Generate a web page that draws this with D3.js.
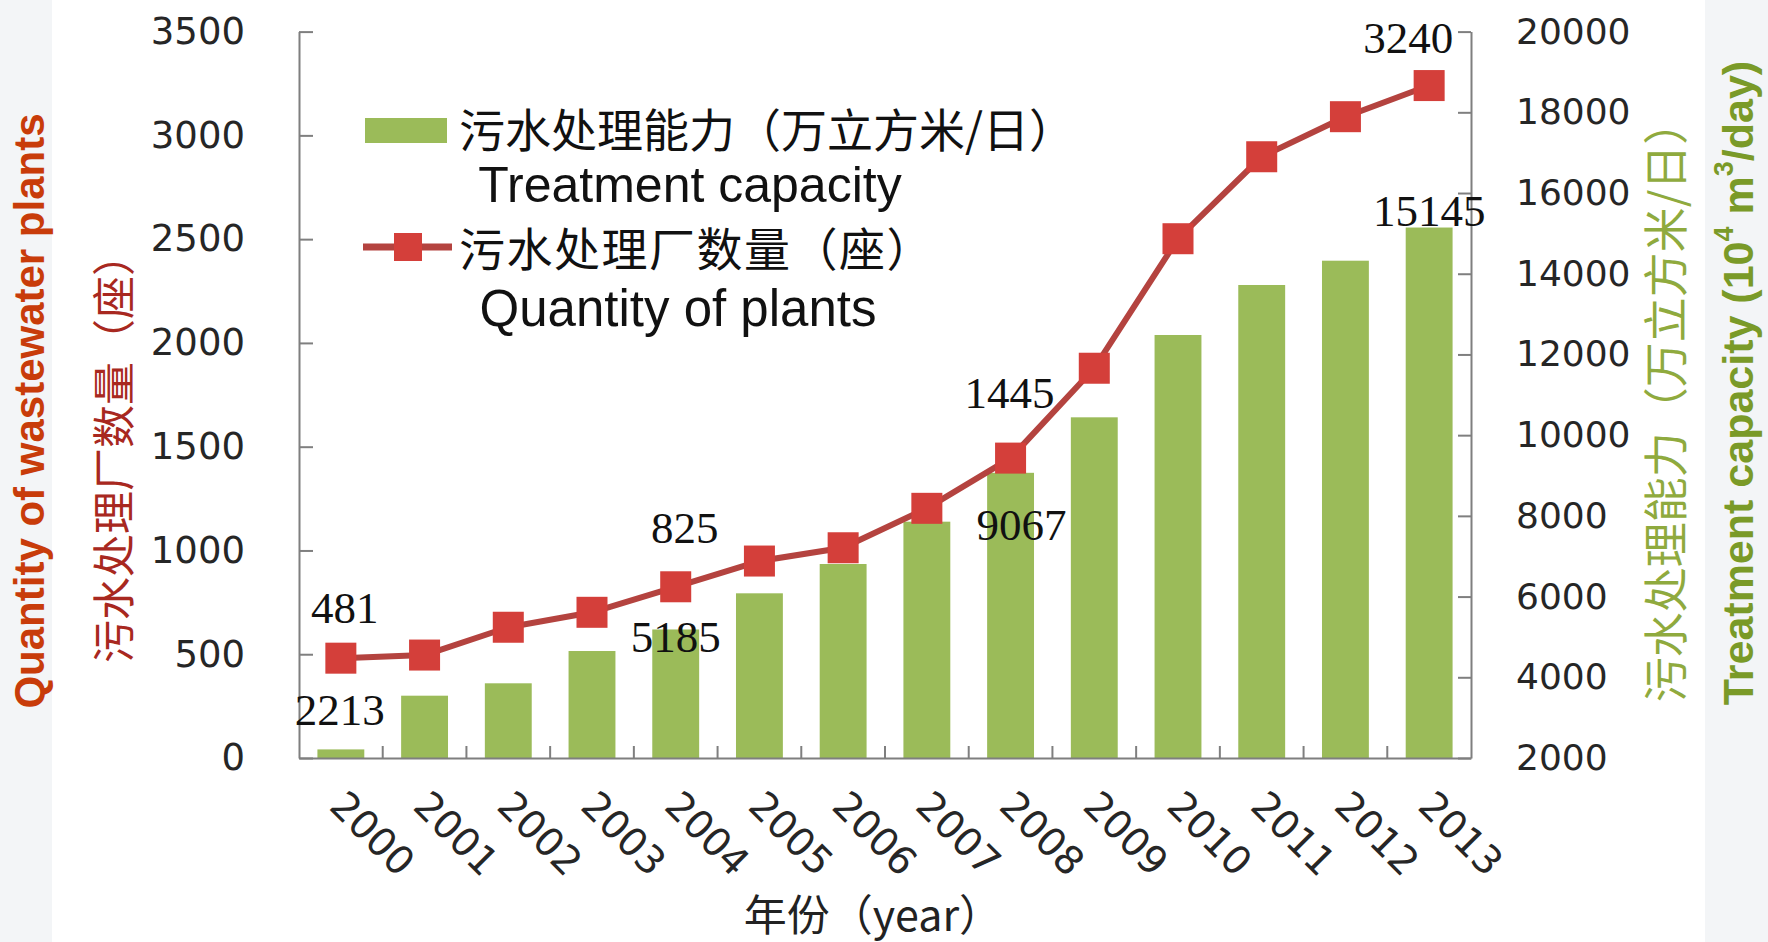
<!DOCTYPE html>
<html>
<head>
<meta charset="utf-8">
<script src="https://cdn.jsdelivr.net/npm/d3@7"></script>
<style>
  html, body { margin: 0; padding: 0; background: #ffffff; }
  svg { display: block; }
</style>
</head>
<body>
<svg id="chart" width="1768" height="942"></svg>
<script>
// ---------- data ----------
const years = ["2000","2001","2002","2003","2004","2005","2006","2007","2008","2009","2010","2011","2012","2013"];
const capacity = [2213, 3544, 3851, 4651, 5185, 6081, 6807, 7856, 9067, 10442, 12482, 13721, 14323, 15145];
const plants = [481, 496, 630, 702, 825, 949, 1013, 1203, 1445, 1878, 2502, 2897, 3090, 3240];
const leftTicks = [0, 500, 1000, 1500, 2000, 2500, 3000, 3500];
const rightTicks = [2000, 4000, 6000, 8000, 10000, 12000, 14000, 16000, 18000, 20000];
const labelledCapacityYears = ["2000", "2004", "2008", "2013"];
const labelledPlantYears = ["2000", "2004", "2008", "2013"];

const legendBarText = "污水处理能力（万立方米/日）";
const legendBarTextEn = "Treatment capacity";
const legendLineText = "污水处理厂数量（座）";
const legendLineTextEn = "Quantity of plants";
const xTitle = "年份（year）";
const leftTitleCn = "污水处理厂数量（座）";
const leftTitleEn = "Quantity of wastewater plants";
const rightTitleCn = "污水处理能力（万立方米/日）";

// ---------- layout ----------
const svg = d3.select("#chart");
const X0 = 299, X1 = 1471, YB = 758, YT = 31.6;
const CJK = "'Noto Sans CJK SC', 'Noto Sans', sans-serif";
const SANS = "'DejaVu Sans', sans-serif";
const ARIAL = "'Liberation Sans', Arial, sans-serif";
const SERIF = "'Liberation Serif', 'Times New Roman', serif";

const green = "#9BBB59";
const lineRed = "#B4433F";
const markerRed = "#D43F3A";
const axisGray = "#7f7f7f";

// light side strips
svg.append("rect").attr("x", 0).attr("y", 0).attr("width", 52).attr("height", 942).attr("fill", "#f3f5f7");
svg.append("rect").attr("x", 1705).attr("y", 0).attr("width", 63).attr("height", 942).attr("fill", "#f3f5f7");

const x = d3.scaleBand().domain(years).range([X0, X1]).paddingInner(0.44).paddingOuter(0.22);
const yL = d3.scaleLinear().domain([0, 3500]).range([YB, YT]);
const yR = d3.scaleLinear().domain([2000, 20000]).range([YB, YT]);
const cx = d => x(d) + x.bandwidth() / 2;

// ---------- bars ----------
svg.append("g").selectAll("rect").data(years).join("rect")
  .attr("x", d => x(d))
  .attr("width", x.bandwidth())
  .attr("y", (d, i) => yR(capacity[i]))
  .attr("height", (d, i) => YB - yR(capacity[i]))
  .attr("fill", green);

// ---------- axes ----------
function styleAxis(g) {
  g.selectAll(".domain").attr("stroke", axisGray).attr("stroke-width", 2);
  g.selectAll(".tick line").attr("stroke", axisGray).attr("stroke-width", 2);
  g.selectAll(".tick text").attr("fill", "#262626");
}

const gL = svg.append("g").attr("transform", `translate(${X0},0)`)
  .call(d3.axisLeft(yL).tickValues(leftTicks).tickSizeInner(-14).tickSizeOuter(0).tickPadding(54).tickFormat(d3.format("d")));
gL.selectAll(".tick text").attr("font-family", SANS).attr("font-size", 37);
styleAxis(gL);

const gR = svg.append("g").attr("transform", `translate(${X1},0)`)
  .call(d3.axisRight(yR).tickValues(rightTicks).tickSizeInner(-13).tickSizeOuter(0).tickPadding(45).tickFormat(d3.format("d")));
gR.selectAll(".tick text").attr("font-family", SANS).attr("font-size", 36);
styleAxis(gR);

const gB = svg.append("g").attr("transform", `translate(0,${YB})`)
  .call(d3.axisBottom(x).tickSize(0).tickSizeOuter(0));
gB.selectAll(".tick text")
  .attr("font-family", SANS).attr("font-size", 39)
  .attr("text-anchor", "start")
  .attr("x", -13).attr("y", 50).attr("dy", 0)
  .attr("transform", "rotate(45,-13,50)");
styleAxis(gB);
// category boundary ticks (inside)
svg.append("g").selectAll("line").data(years.slice(1)).join("line")
  .attr("x1", d => x(d) - x.step() * x.paddingInner() / 2)
  .attr("x2", d => x(d) - x.step() * x.paddingInner() / 2)
  .attr("y1", YB).attr("y2", YB - 12)
  .attr("stroke", axisGray).attr("stroke-width", 2);

// ---------- line + markers ----------
const line = d3.line().x(d => cx(d[0])).y(d => yL(d[1]));
svg.append("path")
  .datum(years.map((y, i) => [y, plants[i]]))
  .attr("d", line)
  .attr("fill", "none")
  .attr("stroke", lineRed)
  .attr("stroke-width", 6)
  .attr("stroke-linejoin", "round");

const MS = 31;
svg.append("g").selectAll("rect").data(years).join("rect")
  .attr("x", d => cx(d) - MS / 2)
  .attr("y", (d, i) => yL(plants[i]) - MS / 2)
  .attr("width", MS).attr("height", MS)
  .attr("fill", markerRed);

// ---------- data labels ----------
const capOffsets = { "2000": [-1, -24], "2004": [0, 23], "2008": [11, 67], "2013": [0, -2] };
const plantOffsets = { "2000": [4, -35], "2004": [9, -44], "2008": [-1, -50], "2013": [-21, -33] };

svg.append("g").selectAll("text").data(labelledCapacityYears).join("text")
  .attr("x", d => cx(d) + capOffsets[d][0])
  .attr("y", d => yR(capacity[years.indexOf(d)]) + capOffsets[d][1])
  .attr("text-anchor", "middle")
  .attr("font-family", SERIF).attr("font-size", 45).attr("fill", "#111")
  .text(d => capacity[years.indexOf(d)]);

svg.append("g").selectAll("text").data(labelledPlantYears).join("text")
  .attr("x", d => cx(d) + plantOffsets[d][0])
  .attr("y", d => yL(plants[years.indexOf(d)]) + plantOffsets[d][1])
  .attr("text-anchor", "middle")
  .attr("font-family", SERIF).attr("font-size", 45).attr("fill", "#111")
  .text(d => plants[years.indexOf(d)]);

// ---------- legend ----------
const lg = svg.append("g");
lg.append("rect").attr("x", 365).attr("y", 118).attr("width", 82).attr("height", 25).attr("fill", green);
lg.append("text").attr("x", 459).attr("y", 127).attr("dominant-baseline", "central")
  .attr("font-family", CJK).attr("font-size", 46).attr("fill", "#111").text(legendBarText);
lg.append("text").attr("x", 690).attr("y", 202).attr("text-anchor", "middle")
  .attr("font-family", ARIAL).attr("font-size", 50).attr("fill", "#111").text(legendBarTextEn);
lg.append("line").attr("x1", 363).attr("x2", 452).attr("y1", 247).attr("y2", 247)
  .attr("stroke", lineRed).attr("stroke-width", 7);
lg.append("rect").attr("x", 408 - 14).attr("y", 247 - 14).attr("width", 28).attr("height", 28).attr("fill", markerRed);
lg.append("text").attr("x", 459).attr("y", 246).attr("dominant-baseline", "central")
  .attr("font-family", CJK).attr("font-size", 46).attr("letter-spacing", 1.5).attr("fill", "#111").text(legendLineText);
lg.append("text").attr("x", 678).attr("y", 326).attr("text-anchor", "middle")
  .attr("font-family", ARIAL).attr("font-size", 51).attr("fill", "#111").text(legendLineTextEn);

// ---------- axis titles ----------
svg.append("text").attr("x", 873).attr("y", 912).attr("text-anchor", "middle").attr("dominant-baseline", "central")
  .attr("font-family", CJK).attr("font-size", 43).attr("fill", "#222").text(xTitle);

svg.append("text").attr("transform", "translate(29,411) rotate(-90)")
  .attr("text-anchor", "middle").attr("dominant-baseline", "central")
  .attr("font-family", ARIAL).attr("font-weight", "bold").attr("font-size", 42).attr("fill", "#C83C0A")
  .text(leftTitleEn);

svg.append("text").attr("transform", "translate(111,448) rotate(-90)")
  .attr("text-anchor", "middle").attr("dominant-baseline", "central")
  .attr("font-family", CJK).attr("font-size", 43).attr("fill", "#A82820")
  .text(leftTitleCn);

svg.append("text").attr("transform", "translate(1663,401) rotate(-90)")
  .attr("text-anchor", "middle").attr("dominant-baseline", "central")
  .attr("font-family", CJK).attr("font-size", 45).attr("fill", "#8FAA3E")
  .text(rightTitleCn);

const rt = svg.append("text").attr("transform", "translate(1738,383) rotate(-90)")
  .attr("text-anchor", "middle").attr("dominant-baseline", "central")
  .attr("font-family", ARIAL).attr("font-weight", "bold").attr("font-size", 43).attr("fill", "#7A9A28");
rt.append("tspan").text("Treatment capacity (10");
rt.append("tspan").attr("font-size", 27).attr("dy", -14).text("4");
rt.append("tspan").attr("dy", 14).text(" m");
rt.append("tspan").attr("font-size", 27).attr("dy", -14).text("3");
rt.append("tspan").attr("dy", 14).text("/day)");
</script>
</body>
</html>
